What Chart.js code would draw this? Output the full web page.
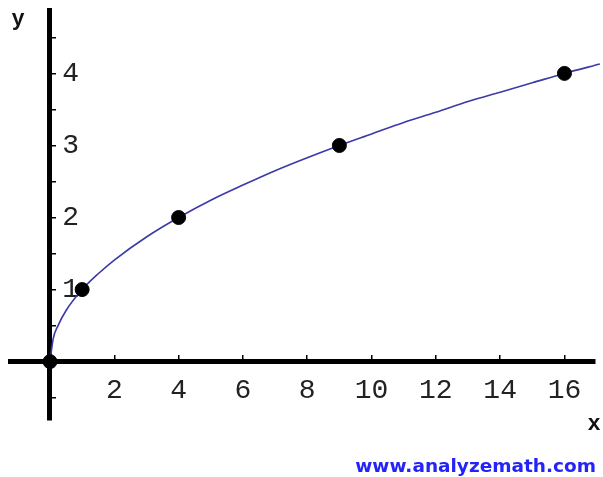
<!DOCTYPE html>
<html>
<head>
<meta charset="utf-8">
<script src="https://cdn.jsdelivr.net/npm/chart.js@4/dist/chart.umd.min.js"></script>
<style>
  html, body { margin: 0; padding: 0; background: #fff; }
  canvas { display: block; }
</style>
</head>
<body>
<canvas id="sqrtChart" width="603" height="477"></canvas>
<script>
// Values
const pointX = [0, 1, 4, 9, 16];
const pointY = [0, 1, 2, 3, 4];

// curve samples (estimated along the drawn line)
const curveX = [0, 0.1, 0.25, 0.5, 1, 1.5, 2, 3, 4, 5, 6, 7, 8, 9, 10, 11, 12, 13, 14, 15, 16, 17.1];
const curveY = [0, 0.32, 0.5, 0.71, 1, 1.22, 1.41, 1.73, 2, 2.24, 2.45, 2.65, 2.83, 3, 3.16, 3.32, 3.46, 3.61, 3.74, 3.87, 4, 4.13];

// tick labels
const xTicks = [2, 4, 6, 8, 10, 12, 14, 16];
const yTickMarks = [-0.5, 0.5, 1, 1.5, 2, 2.5, 3, 3.5, 4, 4.5];
const yTicks = [1, 2, 3, 4];

const tickFont = { family: "'Courier New', 'Liberation Mono', monospace", size: 28 };

// label overhang should not shrink the plot area
function noPadding(scale) {
    scale.paddingTop = 0;
    scale.paddingBottom = 0;
    scale.paddingLeft = 0;
    scale.paddingRight = 0;
}

// Texts that are not part of the axes: axis names and site name
const textPlugin = {
    id: 'extraText',
    afterDraw(chart) {
        const ctx = chart.ctx;
        ctx.save();
        ctx.fillStyle = '#111';
        ctx.font = "bold 22px 'Liberation Mono', monospace";
        ctx.textAlign = 'center';
        ctx.textBaseline = 'alphabetic';
        ctx.fillText('y', 18, 25);
        ctx.fillText('x', 594, 430);

        ctx.fillStyle = '#2424f8';
        ctx.font = "bold 18.5px 'DejaVu Sans', sans-serif";
        ctx.textAlign = 'right';
        ctx.fillText('www.analyzemath.com', 596, 472);
        ctx.restore();
    }
};

const chartConfig = {
    type: 'scatter',
    data: {
        datasets: [
            {
                label: 'points',
                data: pointX.map((x, i) => ({ x: x, y: pointY[i] })),
                backgroundColor: '#000',
                borderColor: '#000',
                pointRadius: 7,
                showLine: false,
                clip: false
            },
            {
                label: 'curve',
                data: curveX.map((x, i) => ({ x: x, y: curveY[i] })),
                showLine: true,
                borderColor: '#3a3aa8',
                borderWidth: 1.6,
                pointRadius: 0,
                cubicInterpolationMode: 'monotone',
                clip: false
            }
        ]
    },
    options: {
        responsive: false,
        animation: false,
        layout: {
            padding: { left: 10, top: 10, right: 8, bottom: 57 }
        },
        plugins: {
            legend: { display: false },
            tooltip: { enabled: false }
        },
        scales: {
            x: {
                type: 'linear',
                min: -1.244,
                max: 16.95,
                position: { y: 0 },
                border: { color: '#000', width: 5 },
                grid: { drawOnChartArea: false, color: '#000', lineWidth: 1.5, tickLength: -9 },
                ticks: { font: tickFont, color: '#222', padding: 21, maxRotation: 0, autoSkip: false },
                afterBuildTicks: scale => { scale.ticks = xTicks.map(v => ({ value: v })); },
                afterFit: noPadding
            },
            y: {
                type: 'linear',
                min: -0.81,
                max: 4.88,
                position: { x: 0 },
                border: { color: '#000', width: 5 },
                grid: { drawOnChartArea: false, color: '#000', lineWidth: 1.5, tickLength: -9 },
                ticks: { display: false },
                afterBuildTicks: scale => { scale.ticks = yTickMarks.map(v => ({ value: v })); },
                afterFit: noPadding
            },
            // labels of the y axis sit on the right of the axis line
            yLabels: {
                type: 'linear',
                axis: 'y',
                min: -0.81,
                max: 4.88,
                position: { x: 0.9 },
                border: { display: false },
                grid: { display: false },
                ticks: { font: tickFont, color: '#222', padding: 0, autoSkip: false },
                afterBuildTicks: scale => { scale.ticks = yTicks.map(v => ({ value: v })); },
                afterFit: noPadding
            }
        }
    },
    plugins: [textPlugin]
};

new Chart(document.getElementById('sqrtChart').getContext('2d'), chartConfig);
</script>
</body>
</html>
